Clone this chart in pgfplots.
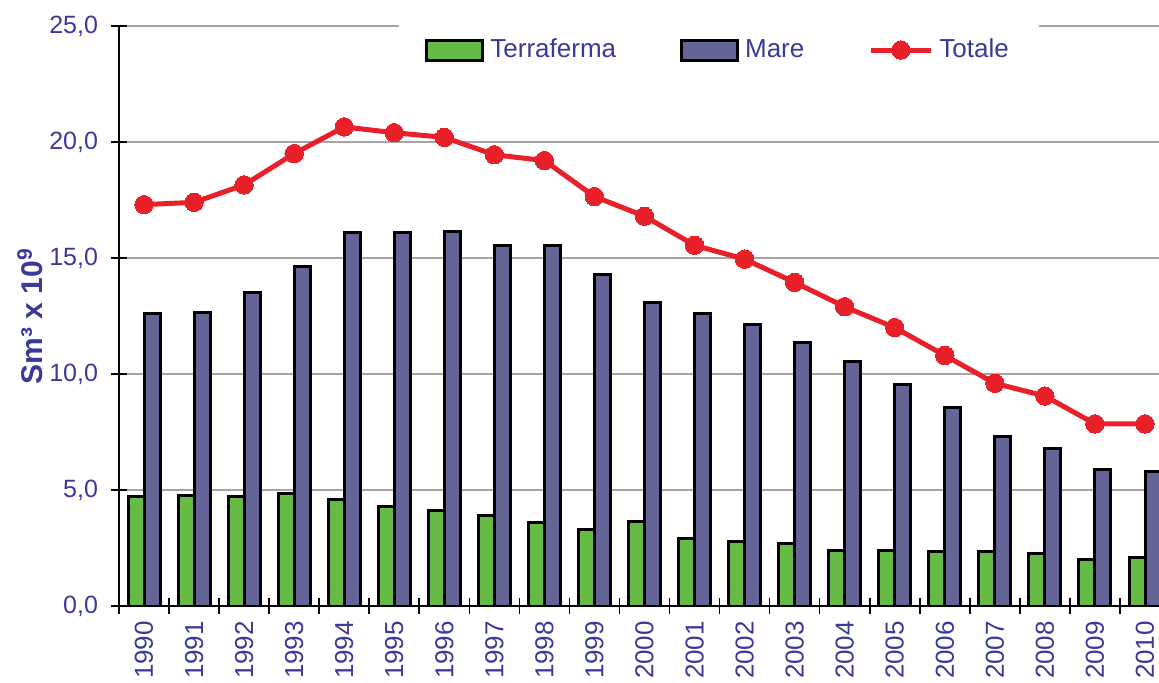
\documentclass[border=0pt]{standalone}
\usepackage{fontspec}
\setmainfont{Liberation Sans}
\usepackage{pgfplots}
\pgfplotsset{compat=1.18}
\definecolor{terra}{HTML}{66BB44}
\definecolor{mare}{HTML}{646496}
\definecolor{tot}{HTML}{E8202A}
\definecolor{txt}{HTML}{3A3A9A}
\pgfplotsset{
    barleg/.style={legend image code/.code={\draw[##1] (0pt,-5pt) rectangle (28pt,5pt);}},
    lineleg/.style={legend image code/.code={\draw[##1, mark repeat=2, mark phase=2] plot coordinates {(0pt,0pt) (15pt,0pt) (30pt,0pt)};}},
}

\begin{document}
\begin{tikzpicture}
\begin{axis}[
    scale only axis, width=520pt, height=290pt,
    at={(0,0)}, anchor=south west,
    ymin=0, ymax=25, xmin=-0.5, xmax=20.28,
    ybar=0pt, bar width=8pt,
    axis x line*=bottom, axis y line*=left,
    axis line style={black, line width=1pt},
    tick style={black, line width=0.8pt},
    tick align=center, major tick length=8pt, minor tick length=8pt,
    ytick={0,5,...,20}, extra y ticks={25},
    extra y tick style={grid style={gray!80, line width=1.6pt}},
    ymajorgrids, major grid style={gray!70, line width=0.6pt},
    /pgf/number format/.cd, fixed, fixed zerofill, precision=1, use comma, assume math mode=true,
    /pgfplots/.cd,
    yticklabel style={font=\fontsize{12.5}{14}\selectfont, text=txt, xshift=-3pt},
    xtick={0,...,20},
    xticklabels={1990,1991,1992,1993,1994,1995,1996,1997,1998,1999,2000,2001,2002,2003,2004,2005,2006,2007,2008,2009,2010},
    xticklabel style={rotate=90, anchor=east, font=\fontsize{13}{15}\selectfont, text=txt},
    major x tick style={draw=none},
    minor xtick={-0.5,0.5,...,20.5},
    ylabel={\textbf{Sm³ x 10\textsuperscript{9}}},
    ylabel style={font=\fontsize{15}{17}\selectfont, text=txt, at={(axis description cs:-0.0856,0.5)}, anchor=center},
    legend columns=3,
    legend style={at={(axis description cs:0.577,0.9586)}, anchor=center, fill=white, draw=none,
        font=\fontsize{13}{15}\selectfont, text=txt, inner xsep=13pt, inner ysep=7pt,
        /tikz/every even column/.append style={column sep=30pt},
        /tikz/every odd column/.append style={column sep=1pt}},
    legend cell align=left,
]
\addplot[fill=terra, draw=black, line width=1.5pt, barleg]
  coordinates {(0,4.7) (1,4.75) (2,4.7) (3,4.85) (4,4.6) (5,4.3) (6,4.1) (7,3.9) (8,3.6) (9,3.3)
    (10,3.65) (11,2.9) (12,2.8) (13,2.7) (14,2.4) (15,2.4) (16,2.35) (17,2.35) (18,2.25) (19,2.0) (20,2.1)};
\addplot[fill=mare, draw=black, line width=1.5pt, barleg]
  coordinates {(0,12.6) (1,12.65) (2,13.5) (3,14.65) (4,16.1) (5,16.1) (6,16.15) (7,15.55) (8,15.55) (9,14.3)
    (10,13.1) (11,12.6) (12,12.15) (13,11.35) (14,10.55) (15,9.55) (16,8.55) (17,7.3) (18,6.8) (19,5.9) (20,5.8)};
\addplot[sharp plot, color=tot, line width=2.5pt, mark=*, mark size=4.6pt,
    mark options={fill=tot, draw=tot, line width=0pt}, lineleg]
  coordinates {(0,17.3) (1,17.4) (2,18.15) (3,19.5) (4,20.65) (5,20.4) (6,20.2) (7,19.45) (8,19.2) (9,17.65)
    (10,16.8) (11,15.55) (12,14.95) (13,13.95) (14,12.9) (15,12.0) (16,10.8) (17,9.6) (18,9.05) (19,7.85) (20,7.85)};
\legend{Terraferma,Mare,Totale}
\end{axis}
\pgfresetboundingbox
\path[use as bounding box] (-59.5pt,-38pt) rectangle (520pt,303pt);
\end{tikzpicture}
\end{document}
